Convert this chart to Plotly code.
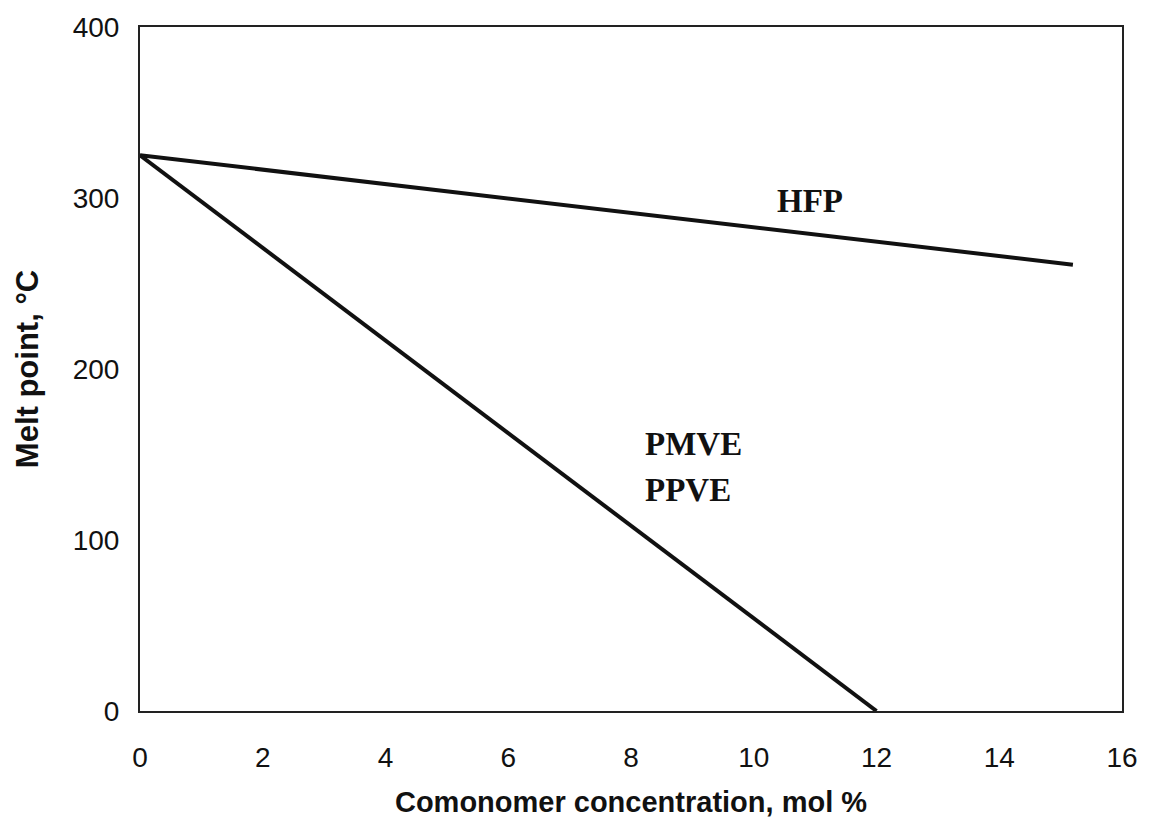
import plotly.graph_objects as go

# Melt point vs. comonomer content for PTFE copolymers
hfp_conc = [0, 15.2]
hfp_melt = [325, 261]

pave_conc = [0, 12]
pave_melt = [325, 0]

x_ticks = [0, 2, 4, 6, 8, 10, 12, 14, 16]
y_ticks = [0, 100, 200, 300, 400]

fig = go.Figure()
fig.add_trace(go.Scatter(x=hfp_conc, y=hfp_melt, mode="lines",
                         line=dict(color="#111111", width=4), showlegend=False))
fig.add_trace(go.Scatter(x=pave_conc, y=pave_melt, mode="lines",
                         line=dict(color="#111111", width=4), showlegend=False))

label_font = dict(family="Liberation Serif, Times New Roman, serif", size=33, color="#111111")
fig.add_annotation(x=10.35, y=298, text="<b>HFP</b>", showarrow=False,
                   xanchor="left", yanchor="middle", font=label_font)
fig.add_annotation(x=8.2, y=156, text="<b>PMVE</b>", showarrow=False,
                   xanchor="left", yanchor="middle", font=label_font)
fig.add_annotation(x=8.2, y=129, text="<b>PPVE</b>", showarrow=False,
                   xanchor="left", yanchor="middle", font=label_font)

axis_font = dict(family="Liberation Sans, Arial, sans-serif", size=28, color="#111111")
xtitle_font = dict(family="Liberation Sans, Arial, sans-serif", size=29, color="#111111")
ytitle_font = dict(family="Liberation Sans, Arial, sans-serif", size=31, color="#111111")

fig.update_xaxes(range=[0, 16], tickvals=x_ticks, showgrid=False, zeroline=False,
                 showline=True, mirror=True, linecolor="#222222", linewidth=2,
                 ticks="", tickfont=axis_font, ticklabelstandoff=20,
                 title=dict(text="<b>Comonomer concentration, mol %</b>",
                            font=xtitle_font, standoff=20))
fig.update_yaxes(range=[0, 400], tickvals=y_ticks, showgrid=False, zeroline=False,
                 showline=True, mirror=True, linecolor="#222222", linewidth=2,
                 ticks="", tickfont=axis_font, ticklabelstandoff=13,
                 title=dict(text="<b>Melt point, °C</b>", font=ytitle_font, standoff=25))

fig.update_layout(width=1150, height=825, plot_bgcolor="white", paper_bgcolor="white",
                  margin=dict(l=140, r=23, t=24, b=114))

fig.write_html("out.html")
